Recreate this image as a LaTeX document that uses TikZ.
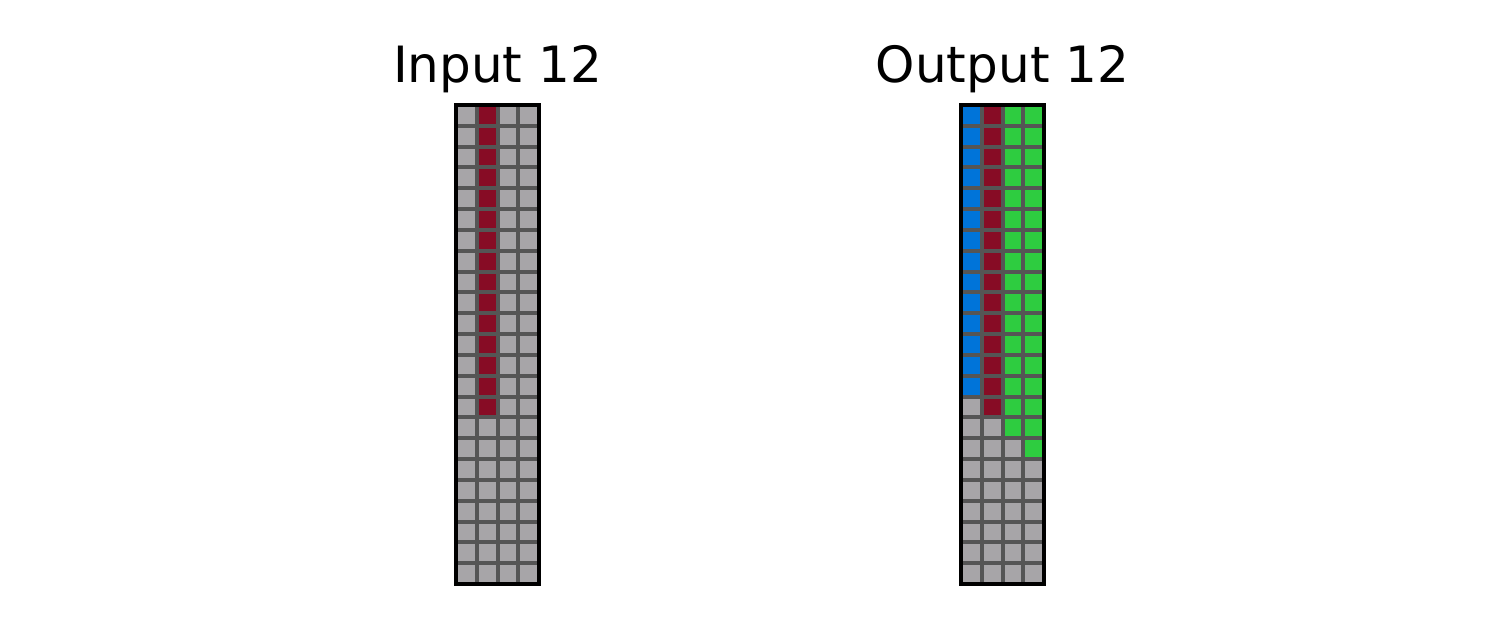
\documentclass[tikz,border=0pt]{standalone}
\usepackage{fontspec}
\setmainfont{DejaVu Sans}
\definecolor{cgray}{HTML}{A7A5A8}
\definecolor{cred}{HTML}{870C25}
\definecolor{cblue}{HTML}{0074D9}
\definecolor{cgreen}{HTML}{2ECC40}
\definecolor{cline}{HTML}{555555}
\tikzset{
  title/.style={anchor=base, inner sep=0pt, font=\fontsize{25}{30}\selectfont},
  gridline/.style={draw=cline, line width=2pt},
  border/.style={draw=black, line width=1.7pt},
}
\begin{document}
\begin{tikzpicture}[x=0.5pt,y=-0.5pt]
\useasboundingbox (0,0) rectangle (1500,629);
\def\cw{20.75}
\def\ch{20.826}
% Input grid
\def\L{456}
\def\T{105}
\fill[cgray] (\L,\T) rectangle ({\L+4*\cw},{\T+23*\ch});
\fill[cred] ({\L+1*\cw},\T) rectangle ({\L+2*\cw},{\T+15*\ch});
\foreach \k in {1,2,3} \draw[gridline] ({\L+\k*\cw},\T) -- ({\L+\k*\cw},{\T+23*\ch});
\foreach \k in {1,...,22} \draw[gridline] (\L,{\T+\k*\ch}) -- ({\L+4*\cw},{\T+\k*\ch});
\draw[border] (\L,\T) rectangle ({\L+4*\cw},{\T+23*\ch});
\node[title] (tin) at (497.5,82) {Input 12};
% Output grid
\def\L{961}
\fill[cgray] (\L,\T) rectangle ({\L+4*\cw},{\T+23*\ch});
\fill[cblue] (\L,\T) rectangle ({\L+1*\cw},{\T+14*\ch});
\fill[cred] ({\L+1*\cw},\T) rectangle ({\L+2*\cw},{\T+15*\ch});
\fill[cgreen] ({\L+2*\cw},\T) rectangle ({\L+3*\cw},{\T+16*\ch});
\fill[cgreen] ({\L+3*\cw},\T) rectangle ({\L+4*\cw},{\T+17*\ch});
\foreach \k in {1,2,3} \draw[gridline] ({\L+\k*\cw},\T) -- ({\L+\k*\cw},{\T+23*\ch});
\foreach \k in {1,...,22} \draw[gridline] (\L,{\T+\k*\ch}) -- ({\L+4*\cw},{\T+\k*\ch});
\draw[border] (\L,\T) rectangle ({\L+4*\cw},{\T+23*\ch});
\node[title] (tout) at (1002.5,82) {Output 12};
\end{tikzpicture}
\end{document}
